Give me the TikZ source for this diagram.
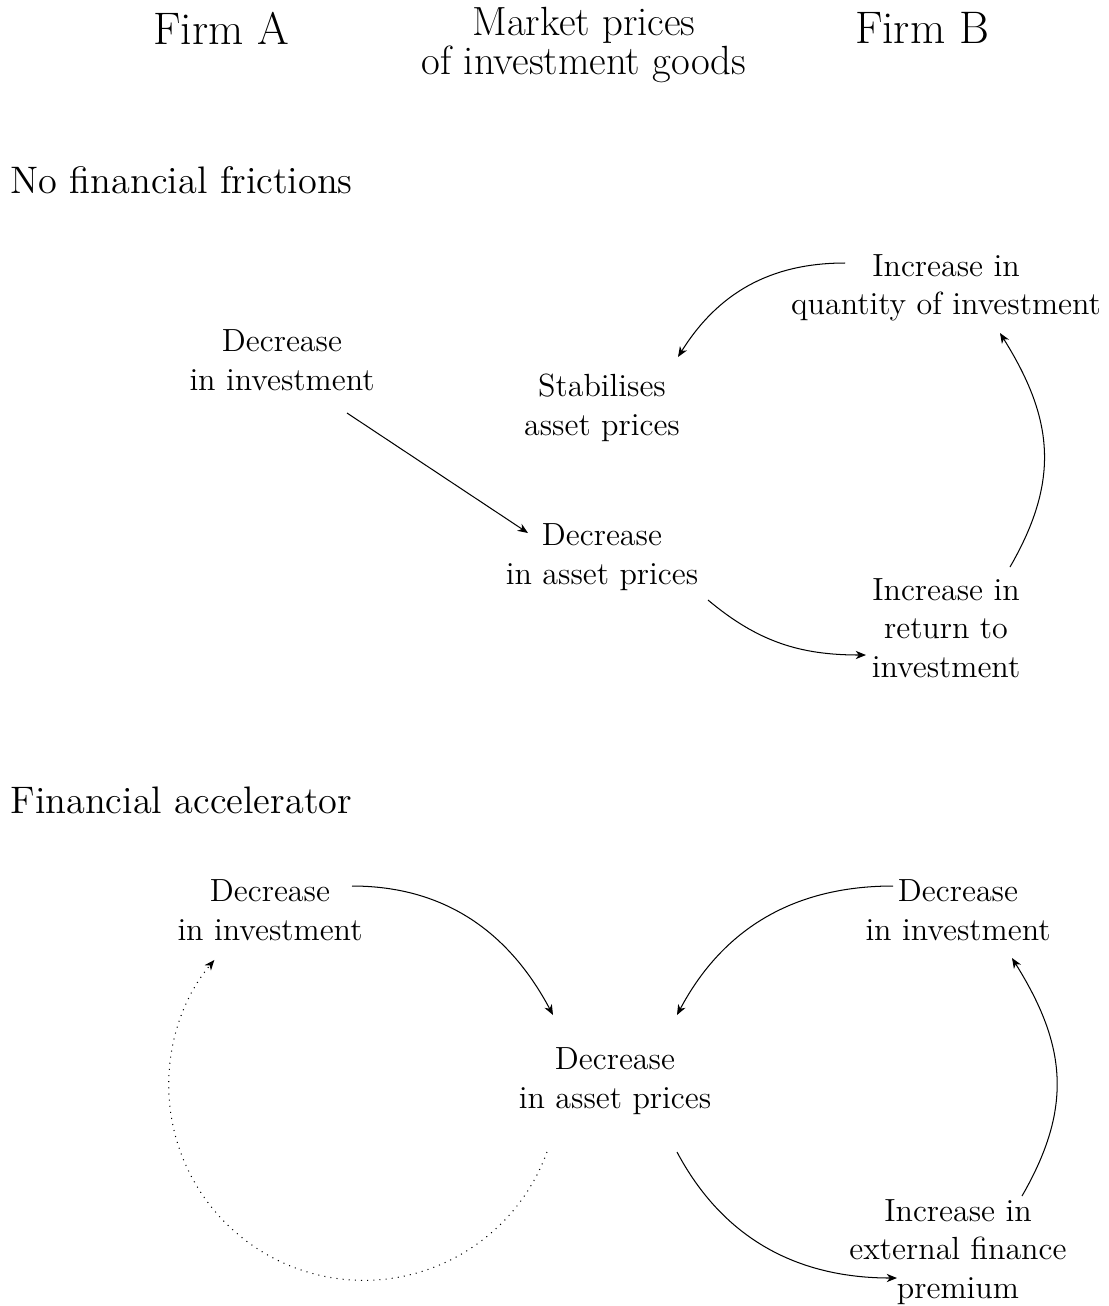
\documentclass[tikz,border=0pt]{standalone}
\usetikzlibrary{arrows.meta,calc}
\begin{document}
\begin{tikzpicture}[x=0.39pt,y=0.39pt,
  lbl/.style={align=center,inner sep=0pt,font=\fontsize{12.5}{15}\selectfont},
  ttl/.style={align=center,inner sep=0pt,font=\fontsize{17.8}{15.4}\selectfont},
  mttl/.style={align=center,inner sep=0pt,font=\fontsize{15.9}{15.4}\selectfont},
  hdg/.style={anchor=west,inner sep=0pt,font=\fontsize{14.95}{18}\selectfont},
  arr/.style={-{Stealth[length=4pt,width=3.2pt,inset=1.2pt]},thin},
  dotarr/.style={arr,dotted}]
\useasboundingbox (0,0) rectangle (1109,-1306);
% titles
\node[ttl] (firmA) at (221,-28) {Firm A};
\node[mttl] (mkt) at (584,-45) {Market prices\\of investment goods};
\node[ttl] (firmB) at (922,-28) {Firm B};
\node[hdg] (h1) at (10,-180) {No financial frictions};
\node[hdg] (h2) at (10,-800) {Financial accelerator};
% upper section
\node[lbl] (A1) at (282,-360) {Decrease\\in investment};
\node[lbl] (S) at (602,-408) {Stabilises\\asset prices};
\node[lbl] (D1) at (602,-557) {Decrease\\in asset prices};
\node[lbl] (Q) at (946,-288) {Increase in\\quantity of investment};
\node[lbl] (R) at (946,-628) {Increase in\\return to\\investment};
\draw[arr] ($(A1)+(65,-53)$) -- ($(D1)+(-74,24)$);
\draw[arr] ($(D1)+(106,-43)$) to[out=-40,in=180] ($(R)+(-80,-27)$);
\draw[arr] ($(R)+(64,61)$) to[out=60,in=-58,looseness=1.1] ($(Q)+(54,-45)$);
\draw[arr] ($(Q)+(-101,25)$) to[out=180,in=58] ($(S)+(76,51)$);
% lower section
\node[lbl] (A2) at (270,-910) {Decrease\\in investment};
\node[lbl] (D2) at (615,-1081) {Decrease\\in asset prices};
\node[lbl] (B2) at (958,-910) {Decrease\\in investment};
\node[lbl] (E) at (958,-1252) {Increase in\\external finance\\premium};
\draw[arr] ($(A2)+(82,24)$) to[out=0,in=118] ($(D2)+(-62,66)$);
\draw[arr] ($(B2)+(-65,24)$) to[out=180,in=62] ($(D2)+(62,66)$);
\draw[arr] ($(D2)+(62,-71)$) to[out=-62,in=180] ($(E)+(-61,-26)$);
\draw[arr] ($(E)+(64,56)$) to[out=60,in=-58,looseness=1.1] ($(B2)+(54,-48)$);
\draw[dotarr] ($(D2)+(-68,-71)$) arc[start angle=-20,end angle=-220,radius=195];
\end{tikzpicture}
\end{document}
